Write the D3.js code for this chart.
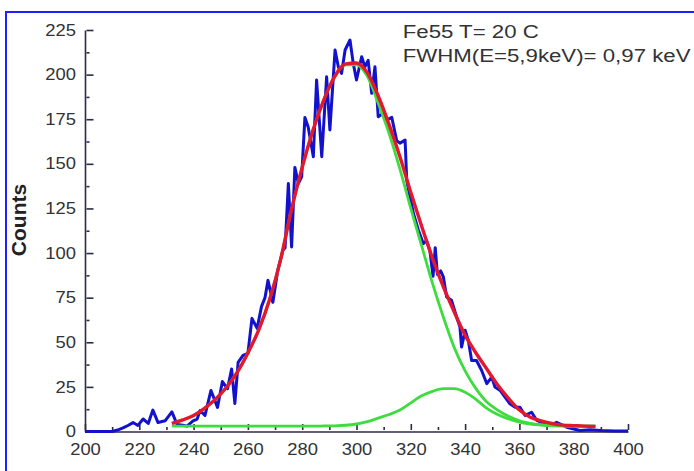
<!DOCTYPE html>
<html><head><meta charset="utf-8">
<script src="https://cdn.jsdelivr.net/npm/d3@7"></script>
<style>html,body{margin:0;padding:0;background:#fff;overflow:hidden}svg{display:block}</style>
</head><body>
<script>
// ---- data ----
const xTickValues = [200,220,240,260,280,300,320,340,360,380,400];
const xMinorTicks = [210,230,250,270,290,310,330,350,370,390];
const yTickValues = [0,25,50,75,100,125,150,175,200,225];
const yMinorTicks = [12.5,37.5,62.5,87.5,112.5,137.5,162.5,187.5,212.5];

// measured spectrum (channel, counts)
const dataX = [200,206,210,212,214,216,217.7,219.5,221.4,223.3,225,226.9,229.5,232,233.9,236,237.6,239.8,241.3,242.4,244.2,246.4,248.8,250.6,252.5,254,255.2,256.4,258.2,260,261.5,263.4,265,266.3,267.4,269.2,271,272.9,273.7,274.9,276.1,277.3,278.6,279.8,281,282.2,284.1,285.3,287.2,289,290.2,292.1,293.3,294.5,295.8,297.6,298.8,300,301.9,303.1,304.3,305.6,306.8,308,309.9,311.1,313,314.8,316,317.9,318.5,319.7,321,322.8,324.6,325.8,327,328.2,329,329.8,331,332,333.2,335,336.9,338.1,338.7,340,341.2,342.4,344.2,346.1,348,349.8,351,352.9,354.7,356.5,358.4,360.2,362.1,364.5,366.4,369.4,371.3,373.7,377.4,382.3,386,390,395,400];
const dataY = [0,0,0,0.8,2,3.5,5,3.4,7,4.5,12,5,6,11,4,3.5,3,6,7,11.8,9,23,13.5,28,24,35,15.7,38.7,42.6,43.8,63.4,57.8,70,75,84.7,72.4,90.3,101.6,103,139,103.4,148,139,142.7,176,170.7,154,197,154,198.8,169,213.8,204.4,200.7,213.8,219.4,206.3,197,210,204.4,208,189.5,204.4,176.4,178.3,174.5,176,163,161.6,163.3,140.8,131.5,122,112.8,105.3,107,101.6,87,103,88,90,86.6,75.4,73.5,64,58.5,47.3,56.7,51,39.8,39.8,34.2,26.8,30.5,24.9,23,19.3,15.5,13.6,13.6,9,10.8,6.2,4.3,3.4,5.2,2.4,0.6,1,0.5,0.3,0.3];

// fit curves sampled (channel)
const fitX = [232,236,240,244,248,252,256,260,264,268,272,276,280,284,288,292,296,300,304,308,312,316,320,324,328,332,336,340,344,348,352,356,360,364,368,372,376,380,384,388];
const fitTotal = [4.5,6.5,9,13,18,24.5,33,44,57,74,96,124,148,169,186,199,206,206.5,201,188,172,154,134,115,97,81,67,54,44,35,26,18.5,12,8,6,4.5,3.6,3.3,3,2.8];
const fitPeak1 = [4.5,6.5,9,13,18,24.5,33,44,57,74,96,124,148,169,186,199,205.5,205.5,199,184,167,147,125,104,83,64,47,34,24,16.5,12,8.5,6,4.6,3.8,3.3,3.1,3,3,3];
const fitPeak2 = [3,3,3,3,3,3,3,3,3,3,3,3,3,3,3.1,3.2,3.5,4.2,5.5,7.5,9.5,12,16,20,22.5,24,24,22,18,13,9.5,7,5.2,4.2,3.6,3.2,3.1,3,3,3];

const annotation = ["Fe55 T= 20 C", "FWHM(E=5,9keV)= 0,97 keV"];
const yLabel = "Counts";

// ---- drawing ----
const W = 694, H = 471;
const svg = d3.select("body").append("svg").attr("width", W).attr("height", H);
svg.append("rect").attr("width", W).attr("height", H).attr("fill", "#fff");

// blue frame
svg.append("rect").attr("x", 6).attr("y", 12).attr("width", 720).attr("height", 500)
  .attr("fill", "none").attr("stroke", "#1f1fff").attr("stroke-width", 2);

const x = d3.scaleLinear().domain([200, 400]).range([85, 628]);
const y = d3.scaleLinear().domain([0, 225]).range([431.5, 30]);

const axisColor = "#2a2a48";
const font = "'Liberation Sans', Arial, sans-serif";

// x axis
const gx = svg.append("g").attr("transform", `translate(0,${y(0)})`)
  .call(d3.axisBottom(x).tickValues(xTickValues).tickSizeInner(-6).tickSizeOuter(0).tickPadding(12.5));
const gxm = svg.append("g").attr("transform", `translate(0,${y(0)})`)
  .call(d3.axisBottom(x).tickValues(xMinorTicks).tickSizeInner(-3).tickSizeOuter(0).tickFormat(""));
gxm.select(".domain").remove();

// y axis
const gy = svg.append("g").attr("transform", `translate(${x(200)},0)`)
  .call(d3.axisLeft(y).tickValues(yTickValues).tickSizeInner(-7).tickSizeOuter(0).tickPadding(7.8));
const gym = svg.append("g").attr("transform", `translate(${x(200)},0)`)
  .call(d3.axisLeft(y).tickValues(yMinorTicks).tickSizeInner(-3).tickSizeOuter(0).tickFormat(""));
gym.select(".domain").remove();

[gx, gxm, gy, gym].forEach(g => {
  g.selectAll("path,line").attr("stroke", axisColor).attr("stroke-width", 1.6);
  g.selectAll("text").attr("fill", "#333").attr("font-family", font).attr("font-size", 16)
    .attr("transform", "scale(1.15,1)");
});
gy.selectAll(".tick line").attr("transform", "translate(1.5,0)");
gym.selectAll(".tick line").attr("transform", "translate(1.5,0)");
gx.selectAll(".tick line").attr("transform", "translate(0,-1.5)");
gxm.selectAll(".tick line").attr("transform", "translate(0,-1.5)");

// y label
svg.append("text").attr("transform", "translate(25.5,220) rotate(-90)")
  .attr("text-anchor", "middle").attr("font-family", font).attr("font-weight", "bold")
  .attr("font-size", 21).attr("fill", "#222").text(yLabel);

// series
const dataPts = dataX.map((d, i) => [d, dataY[i]]);
const lineLin = d3.line().x(d => x(d[0])).y(d => y(d[1]));
const lineSmooth = d3.line().x(d => x(d[0])).y(d => y(d[1])).curve(d3.curveMonotoneX);

svg.append("path").datum(dataPts).attr("d", lineLin).attr("fill", "none")
  .attr("stroke", "#1212cc").attr("stroke-width", 3).attr("stroke-linejoin", "round");

[fitPeak1, fitPeak2].forEach(arr => {
  svg.append("path").datum(fitX.map((d, i) => [d, arr[i]])).attr("d", lineSmooth)
    .attr("fill", "none").attr("stroke", "#3fdc3f").attr("stroke-width", 2.8);
});
svg.append("path").datum(fitX.map((d, i) => [d, fitTotal[i]])).attr("d", lineSmooth)
  .attr("fill", "none").attr("stroke", "#e3182e").attr("stroke-width", 3.4);

// annotation
annotation.forEach((t, i) => {
  svg.append("text").attr("transform", `translate(402.7,${37.7 + i * 24.6}) scale(1.27,1)`)
    .attr("font-family", font).attr("font-size", 17.5).attr("fill", "#333").text(t);
});
</script>
</body></html>
